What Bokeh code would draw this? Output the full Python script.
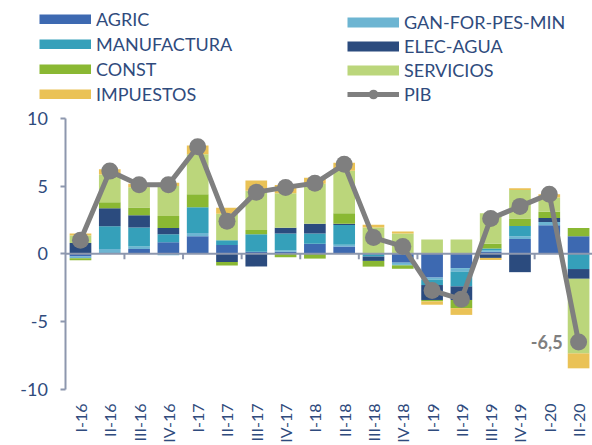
from math import pi
from bokeh.plotting import figure
from bokeh.models import (Range1d, FixedTicker, Legend, LegendItem, ColumnDataSource)
from bokeh.core.properties import value
from bokeh.embed import file_html
from bokeh.resources import INLINE

cats = ["I-16", "II-16", "III-16", "IV-16", "I-17", "II-17", "III-17", "IV-17",
        "I-18", "II-18", "III-18", "IV-18", "I-19", "II-19", "III-19", "IV-19",
        "I-20", "II-20"]

names = ["AGRIC", "GAN-FOR-PES-MIN", "MANUFACTURA", "ELEC-AGUA", "CONST",
         "SERVICIOS", "IMPUESTOS"]

agric = [-0.20, 0.00, 0.35, 0.85, 1.30, 0.65, 0.15, 0.15, 0.75, 0.55, 0.00, -0.65,
         -1.75, -1.05, 0.15, 1.10, 2.10, 1.30]
gan = [-0.12, 0.35, 0.20, -0.10, 0.24, 0.00, 0.00, 0.12, 0.00, 0.12, 0.00, -0.15,
       -0.15, -0.25, 0.10, 0.20, 0.25, 0.00]
manuf = [0.00, 1.68, 1.40, 0.60, 1.90, 0.35, 1.30, 1.23, 0.75, 1.45, -0.20, -0.05,
         -0.40, -1.10, 0.15, 0.75, 0.00, -1.12]
elec = [0.80, 1.33, 0.90, 0.45, 0.00, -0.60, -0.93, 0.42, 0.72, 0.10, -0.32, 0.00,
        -1.10, -1.00, -0.30, -1.35, 0.30, -0.72]
const = [-0.15, 0.44, 0.57, 0.90, 0.95, -0.25, 0.30, -0.25, -0.35, 0.77, -0.42, -0.25,
         -0.10, -0.60, 0.35, 0.55, 0.45, 0.60]
serv = [0.55, 2.06, 1.50, 2.20, 2.95, 1.95, 2.90, 2.55, 2.95, 3.13, 1.95, 1.50,
        1.05, 1.05, 2.25, 2.10, 1.05, -5.50]
imp = [0.15, 0.37, 0.25, 0.25, 0.65, 0.45, 0.75, 0.60, 0.45, 0.60, 0.20, 0.15,
       -0.25, -0.50, -0.15, 0.13, 0.25, -1.10]
pib = [1.0, 6.1, 5.1, 5.1, 7.9, 2.4, 4.55, 4.9, 5.2, 6.6, 1.2, 0.55,
       -2.7, -3.35, 2.6, 3.5, 4.4, -6.5]

yticks = [-10, -5, 0, 5, 10]

colors = ["#3D69B1", "#6DB5D2", "#35A0BA", "#2B4B7E", "#8AB833", "#BBD67B", "#EAC256"]
TEXT = "#2F4B7D"
AXIS = "#8D97AE"
GRAY = "#7F7F7F"
FONT = "Lato"
NAN = float("nan")

n = len(cats)
xs = list(range(n))
series = [agric, gan, manuf, elec, const, serv, imp]
keys = ["s%d" % i for i in range(len(series))]
data = dict(x=xs, pib=pib)
for k, vals in zip(keys, series):
    data["p_" + k] = [max(v, 0.0) for v in vals]
    data["n_" + k] = [min(v, 0.0) for v in vals]
src = ColumnDataSource(data)

# layout: frame covers the whole figure; axes are placed inside it
X_START, X_END = -2.730, 17.475
Y_START, Y_END = -14.13, 18.68
p = figure(x_range=Range1d(X_START, X_END), y_range=Range1d(Y_START, Y_END),
           width=592, height=445, output_backend="svg", toolbar_location=None,
           min_border_left=0, min_border_right=0, min_border_top=0, min_border_bottom=0)
p.outline_line_color = None
p.grid.visible = False
p.background_fill_color = "white"

pos = p.vbar_stack(["p_" + k for k in keys], x="x", width=0.74, fill_color=colors,
                   line_color=None, source=src)
neg = p.vbar_stack(["n_" + k for k in keys], x="x", width=0.74, fill_color=colors,
                   line_color=None, source=src)

# zero line across the categories, with a small tick after every second category
p.segment(x0=[-0.5], y0=[0], x1=[n - 0.5], y1=[0], line_color=AXIS, line_width=2)
tick_x = [i + 0.5 for i in range(1, n - 2, 2)]
p.segment(x0=tick_x, y0=[0] * len(tick_x), x1=tick_x, y1=[-0.4] * len(tick_x),
          line_color=AXIS, line_width=2)

pib_line = p.line(x="x", y="pib", source=src, line_color=GRAY, line_width=5)
pib_dots = p.scatter(x="x", y="pib", source=src, size=17, fill_color=GRAY, line_color=None)

lbl = ("%.1f" % pib[-1]).replace(".", ",")
p.text(x=[xs[-1]], y=[pib[-1]], text=[lbl], x_offset=-16, text_align="right",
       text_baseline="middle", text_font=value(FONT), text_font_style="bold",
       text_font_size="18px", text_color=GRAY)

# y axis
p.yaxis.fixed_location = -0.5
p.yaxis.ticker = FixedTicker(ticks=yticks)
p.yaxis.major_label_overrides = {t: str(t) for t in yticks}
p.yaxis.bounds = (-10, 10)
p.yaxis.axis_line_color = AXIS
p.yaxis.axis_line_width = 2
p.yaxis.major_tick_line_color = AXIS
p.yaxis.major_tick_line_width = 2
p.yaxis.major_tick_out = 5
p.yaxis.major_tick_in = 0
p.yaxis.minor_tick_line_color = None
p.yaxis.major_label_standoff = 13
p.yaxis.major_label_text_font = FONT
p.yaxis.major_label_text_font_size = "18px"
p.yaxis.major_label_text_color = TEXT

# x axis (category labels), placed just under the -10 level
p.xaxis.fixed_location = -10.66
p.xaxis.ticker = FixedTicker(ticks=xs)
p.xaxis.major_label_overrides = {i: c for i, c in zip(xs, cats)}
p.xaxis.axis_line_color = None
p.xaxis.major_tick_line_color = None
p.xaxis.minor_tick_line_color = None
p.xaxis.major_tick_out = 0
p.xaxis.major_label_orientation = pi / 2
p.xaxis.major_label_standoff = 5
p.xaxis.major_label_text_font = FONT
p.xaxis.major_label_text_font_size = "16px"
p.xaxis.major_label_text_color = TEXT

# legends (swatches drawn by hidden proxy lines, one per series)
proxies = [p.line(x=[0], y=[NAN], line_color=c, line_width=10, line_cap="butt")
           for c in colors]
left_items = [LegendItem(label=names[i], renderers=[proxies[i]]) for i in (0, 2, 4, 6)]
right_items = [LegendItem(label=names[i], renderers=[proxies[i]]) for i in (1, 3, 5)]
right_items.append(LegendItem(label="PIB", renderers=[pib_line, pib_dots]))

common = dict(orientation="vertical", glyph_width=52, padding=0, margin=0,
              border_line_color=None, background_fill_alpha=0, label_standoff=5,
              label_text_font=FONT, label_text_font_size="18px", label_text_color=TEXT,
              label_text_baseline="middle")
leg1 = Legend(items=left_items, location=(39, 340), glyph_height=10, spacing=3, **common)
leg2 = Legend(items=right_items, location=(347, 339), glyph_height=24, spacing=0, **common)
p.add_layout(leg1)
p.add_layout(leg2)

open("out.html", "w").write(file_html(p, INLINE))
